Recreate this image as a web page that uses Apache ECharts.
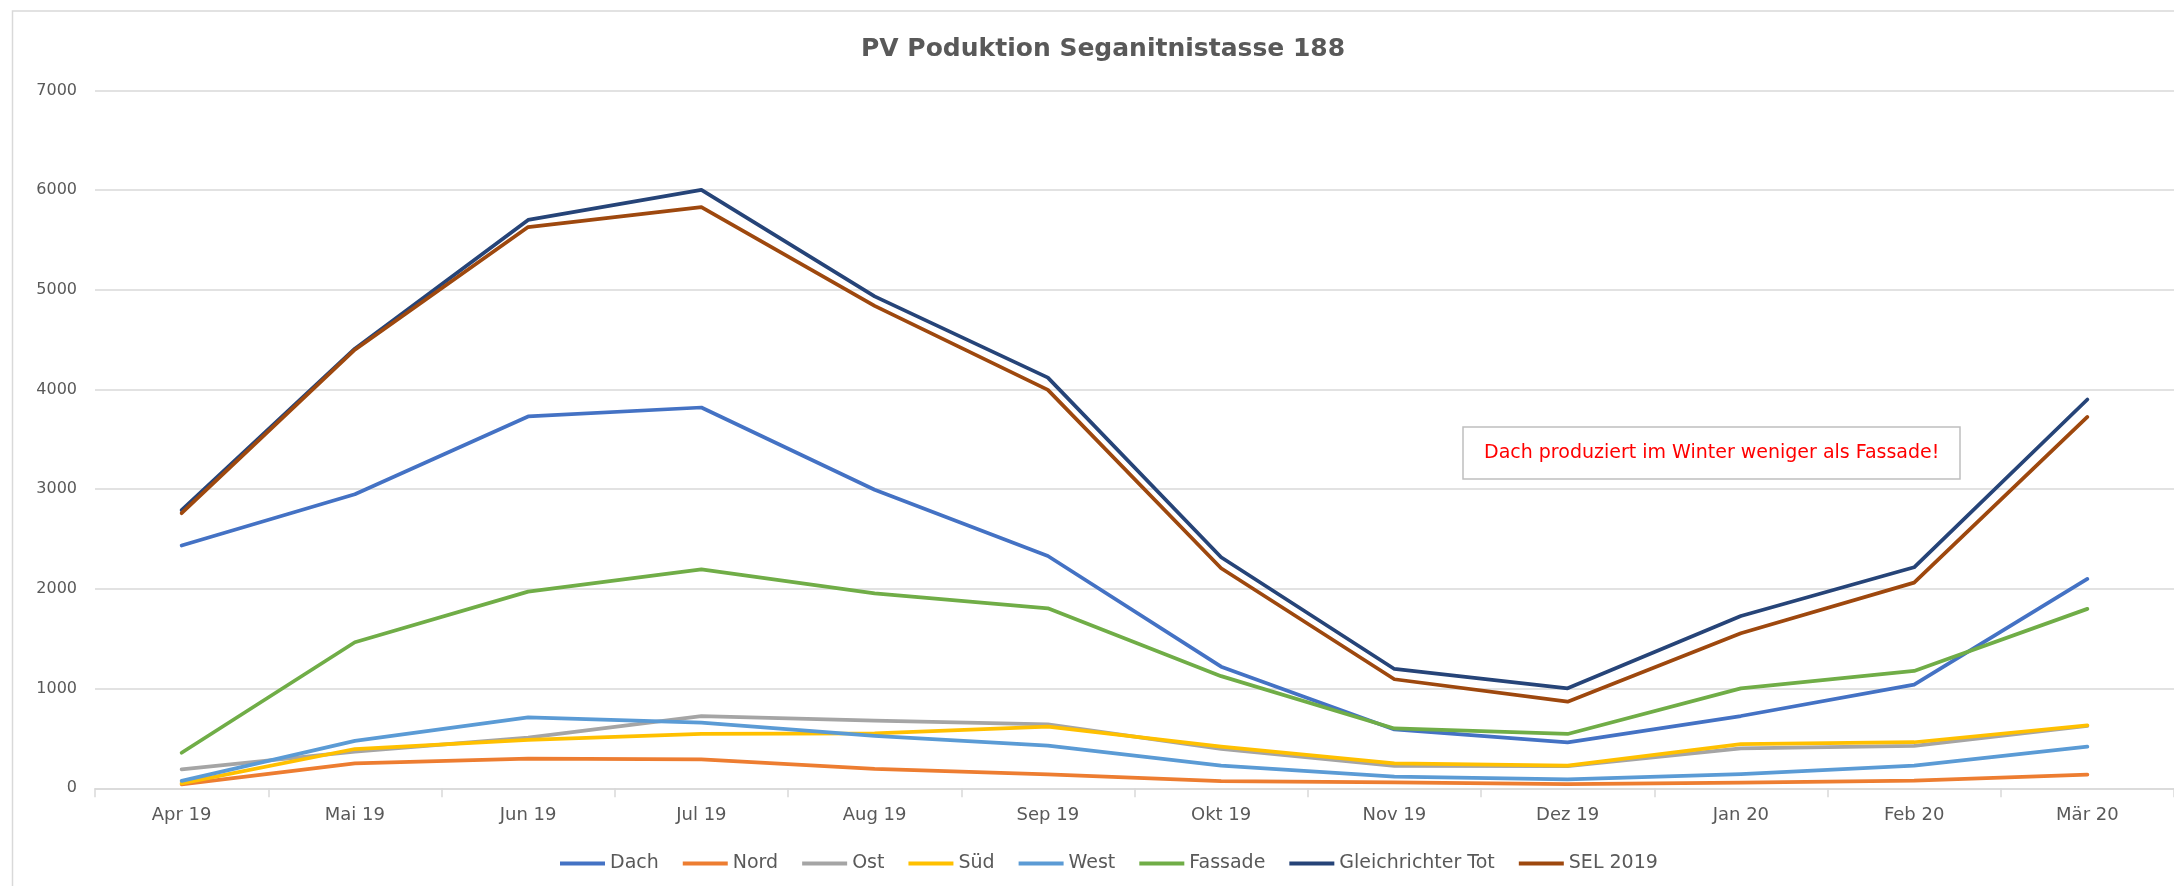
<!DOCTYPE html>
<html>
<head>
<meta charset="utf-8">
<script src="https://cdn.jsdelivr.net/npm/echarts@6/dist/echarts.min.js"></script>
<style>
  html, body { margin: 0; padding: 0; background: #ffffff; }
  #chart { width: 2174px; height: 886px; }
</style>
</head>
<body>
<div id="chart"></div>
<script>
const categories = ['Apr 19', 'Mai 19', 'Jun 19', 'Jul 19', 'Aug 19', 'Sep 19', 'Okt 19', 'Nov 19', 'Dez 19', 'Jan 20', 'Feb 20', 'Mär 20'];
const dach      = [2435, 2950, 3730, 3820, 2995, 2330, 1220, 590, 460, 725, 1040, 2100];
const nord      = [40, 250, 297, 290, 195, 140, 73, 60, 43, 56, 77, 138];
const ost       = [190, 368, 508, 725, 678, 642, 395, 225, 222, 400, 425, 625];
const sued      = [50, 394, 485, 545, 552, 618, 418, 250, 227, 444, 462, 632];
const west      = [75, 475, 712, 658, 525, 428, 227, 116, 90, 143, 227, 418];
const fassade   = [357, 1465, 1973, 2197, 1956, 1806, 1125, 600, 545, 1003, 1177, 1800];
const gleichTot = [2790, 4410, 5702, 6003, 4935, 4120, 2318, 1197, 1003, 1729, 2217, 3900];
const sel2019   = [2760, 4400, 5630, 5830, 4840, 3997, 2207, 1094, 869, 1555, 2063, 3725];

const seriesNames = ['Dach', 'Nord', 'Ost', 'Süd', 'West', 'Fassade', 'Gleichrichter Tot', 'SEL 2019'];
const seriesData = [dach, nord, ost, sued, west, fassade, gleichTot, sel2019];
const seriesColors = ['#4472C4', '#ED7D31', '#A5A5A5', '#FFC000', '#5B9BD5', '#70AD47', '#264478', '#9E480E'];

const titleText = 'PV Poduktion Seganitnistasse 188';
const noteText = 'Dach produziert im Winter weniger als Fassade!';

const FONT = '"DejaVu Sans", sans-serif';
const TXT = '#595959';

const chart = echarts.init(document.getElementById('chart'), null, { renderer: 'canvas' });

const option = {
  backgroundColor: '#ffffff',
  animation: false,
  title: [
    {
      text: titleText,
      left: 861,
      top: 37,
      padding: 0,
      textStyle: { fontFamily: FONT, fontSize: 25, fontWeight: 'bold', color: TXT, lineHeight: 25 }
    },
    {
      text: noteText,
      left: 1463,
      top: 427,
      padding: [16, 21],
      backgroundColor: '#ffffff',
      borderColor: '#BFBFBF',
      borderWidth: 1.5,
      textStyle: { fontFamily: FONT, fontSize: 19, fontWeight: 'normal', color: '#FF0000', lineHeight: 20 }
    }
  ],
  graphic: [
    {
      type: 'rect',
      shape: { x: 12.5, y: 11, width: 2300, height: 1000 },
      style: { fill: 'none', stroke: '#D9D9D9', lineWidth: 1.5 },
      silent: true,
      z: -1
    }
  ],
  legend: {
    data: seriesNames,
    left: 555,
    top: 849,
    icon: 'rect',
    itemWidth: 45,
    itemHeight: 4,
    itemGap: 24,
    textStyle: { fontFamily: FONT, fontSize: 19, color: TXT }
  },
  grid: {
    left: 95,
    right: -8,
    top: 90.5,
    bottom: 97.7,
    containLabel: false
  },
  xAxis: {
    type: 'category',
    data: categories,
    boundaryGap: true,
    axisLine: { lineStyle: { color: '#D9D9D9', width: 1.5 } },
    axisTick: { show: true, length: 9, lineStyle: { color: '#D9D9D9', width: 1.5 } },
    axisLabel: { fontFamily: FONT, fontSize: 18, color: TXT, margin: 18 },
    splitLine: { show: false }
  },
  yAxis: {
    type: 'value',
    min: 0,
    max: 7000,
    interval: 1000,
    axisLine: { show: false },
    axisTick: { show: false },
    axisLabel: { fontFamily: FONT, fontSize: 16, color: TXT, margin: 18, formatter: (v) => String(v) },
    splitLine: { lineStyle: { color: '#D9D9D9', width: 1.5 } }
  },
  series: seriesNames.map((name, i) => ({
    name: name,
    type: 'line',
    data: seriesData[i],
    symbol: 'none',
    smooth: false,
    color: seriesColors[i],
    lineStyle: { width: 3.75, color: seriesColors[i], cap: 'round', join: 'round' },
    emphasis: { disabled: true }
  }))
};

chart.setOption(option);
</script>
</body>
</html>
